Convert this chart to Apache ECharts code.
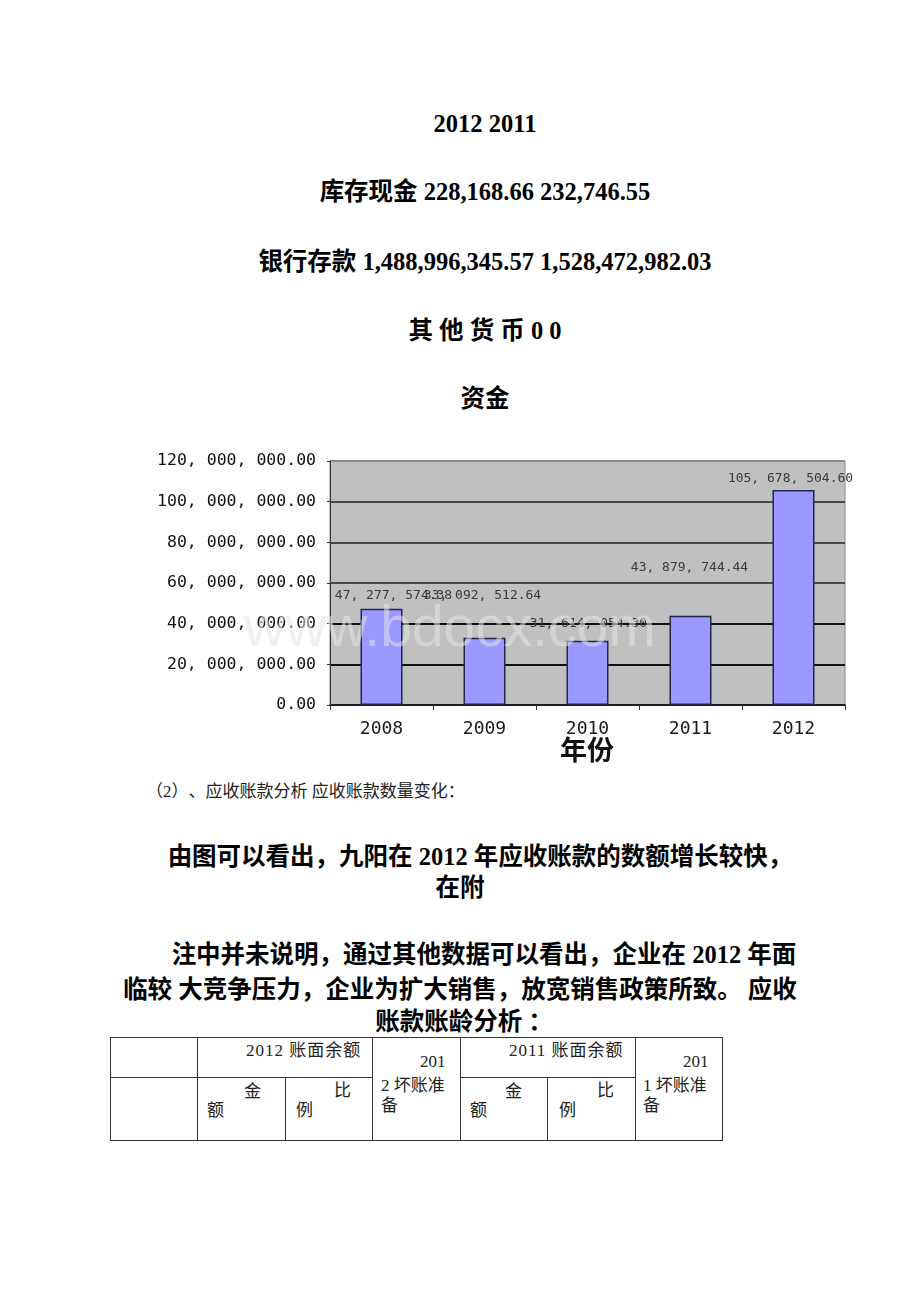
<!DOCTYPE html>
<html><head><meta charset="utf-8">
<script src="https://cdn.jsdelivr.net/npm/echarts@6/dist/echarts.min.js"></script>
<style>
html,body{margin:0;padding:0;background:#fff;}
body{width:920px;height:1302px;position:relative;overflow:hidden;text-spacing-trim:space-all;}
.t{position:absolute;white-space:nowrap;font-family:"Liberation Serif","Noto Sans CJK SC",serif;color:#000;line-height:1;text-spacing-trim:space-all;}
.b{font-weight:bold;font-size:24.5px;}
.c{transform:translate(-50%,-50%);}
.l{transform:translate(0,-50%);}
.s{font-size:17px;color:#222;font-weight:normal;}
.hl{position:absolute;height:1px;background:#333;}
.vl{position:absolute;width:1px;background:#333;}
.tc{position:absolute;white-space:nowrap;font-family:"Liberation Serif","Noto Sans CJK SC",serif;font-size:17px;color:#222;line-height:1;transform:translate(0,-50%);}
#chart{position:absolute;left:140px;top:440px;width:717px;height:330px;}
</style></head><body>
<div class="t b c" style="left:485px;top:124px">2012 2011</div>
<div class="t b c" style="left:485px;top:192px">库存现金 228,168.66 232,746.55</div>
<div class="t b c" style="left:485px;top:262px">银行存款 1,488,996,345.57 1,528,472,982.03</div>
<div class="t b c" style="left:485px;top:331px">其 他 货 币 0 0</div>
<div class="t b c" style="left:485px;top:399px">资金</div>

<div id="chart"></div>

<div class="t s l" style="left:146px;top:791px">（2）、应收账款分析 应收账款数量变化：</div>
<div class="t b c" style="left:480px;top:857px">由图可以看出，九阳在 2012 年应收账款的数额增长较快，</div>
<div class="t b c" style="left:460px;top:888px">在附</div>
<div class="t b c" style="left:484px;top:955px">注中并未说明，通过其他数据可以看出，企业在 2012 年面</div>
<div class="t b c" style="left:460px;top:990px">临较 大竞争压力，企业为扩大销售，放宽销售政策所致。 应收</div>
<div class="t b c" style="left:464px;top:1022px">账款账龄分析 ：</div>

<!-- table -->
<div class="hl" style="left:110px;top:1037px;width:613px"></div>
<div class="hl" style="left:110px;top:1077px;width:262px"></div>
<div class="hl" style="left:460px;top:1077px;width:175px"></div>
<div class="hl" style="left:110px;top:1140px;width:613px"></div>
<div class="vl" style="left:110px;top:1037px;height:104px"></div>
<div class="vl" style="left:197px;top:1037px;height:104px"></div>
<div class="vl" style="left:285px;top:1077px;height:64px"></div>
<div class="vl" style="left:372px;top:1037px;height:104px"></div>
<div class="vl" style="left:460px;top:1037px;height:104px"></div>
<div class="vl" style="left:547px;top:1077px;height:64px"></div>
<div class="vl" style="left:635px;top:1037px;height:104px"></div>
<div class="vl" style="left:722px;top:1037px;height:104px"></div>

<div class="tc" style="left:246px;top:1050px;letter-spacing:1px">2012 账面余额</div>
<div class="tc" style="left:420px;top:1061px">201</div>
<div class="tc" style="left:381px;top:1085px">2 坏账准</div>
<div class="tc" style="left:381px;top:1105px">备</div>
<div class="tc" style="left:509px;top:1050px;letter-spacing:1px">2011 账面余额</div>
<div class="tc" style="left:683px;top:1061px">201</div>
<div class="tc" style="left:643px;top:1085px">1 坏账准</div>
<div class="tc" style="left:643px;top:1105px">备</div>
<div class="tc" style="left:244px;top:1091px">金</div>
<div class="tc" style="left:207px;top:1110px">额</div>
<div class="tc" style="left:334px;top:1090px">比</div>
<div class="tc" style="left:296px;top:1110px">例</div>
<div class="tc" style="left:505px;top:1091px">金</div>
<div class="tc" style="left:470px;top:1110px">额</div>
<div class="tc" style="left:597px;top:1090px">比</div>
<div class="tc" style="left:559px;top:1110px">例</div>

<script>
// ---- data ----
const years = ['2008', '2009', '2010', '2011', '2012'];
const receivables = [47277574.38, 33092512.64, 31614054.30, 43879744.44, 105678504.60];
const yMin = 0;
const yMax = 120000000;
const yStep = 20000000;
const xAxisTitle = '年份';
const watermark = 'www.bdocx.com';

function fmt(v) {
  const parts = v.toFixed(2).split('.');
  const intPart = parts[0].replace(/\B(?=(\d{3})+(?!\d))/g, ',');
  return intPart.split(',').join(', ') + '.' + parts[1];
}

// label nudges (style only)
const nudges = [[12, -7], [-2, -36], [1, -11], [-1, -42], [-3, -5]];

const chart = echarts.init(document.getElementById('chart'), null, {renderer: 'canvas'});
const option = {
  animation: false,
  backgroundColor: '#ffffff',
  grid: {
    left: 190, top: 21, width: 515, height: 244,
    show: true, backgroundColor: '#c0c0c0', borderColor: '#8a8a8a', borderWidth: 1
  },
  xAxis: {
    type: 'category',
    data: years,
    boundaryGap: true,
    axisLine: {show: true, lineStyle: {color: '#222', width: 1.5}},
    axisTick: {show: true, length: 5, lineStyle: {color: '#333'}},
    axisLabel: {margin: 15, fontFamily: 'DejaVu Sans Mono', fontSize: 18, color: '#1a1a1a'}
  },
  yAxis: {
    type: 'value',
    min: yMin, max: yMax, interval: yStep,
    axisLine: {show: true, lineStyle: {color: '#333', width: 1}},
    axisTick: {show: true, length: 3, lineStyle: {color: '#333'}},
    splitLine: {show: true, lineStyle: {color: ['#111', '#111', '#111', '#484848', '#484848', '#484848', '#8a8a8a'], width: 2}},
    axisLabel: {margin: 14, fontFamily: 'DejaVu Sans Mono', fontSize: 16.5, color: '#111', formatter: v => fmt(v)}
  },
  series: [{
    type: 'bar',
    barWidth: 42,
    data: receivables.map((v, i) => ({
      value: v,
      label: {offset: nudges[i]}
    })),
    itemStyle: {color: '#9999ff', borderColor: '#26264a', borderWidth: 1.5},
    label: {
      show: true, position: 'top', distance: 0,
      fontFamily: 'DejaVu Sans Mono', fontSize: 13, color: '#3a3a3a',
      formatter: p => fmt(p.value)
    },
    z: 2
  }],
  graphic: [
    {
      type: 'text', top: 296, left: 420, z: 10,
      style: {text: xAxisTitle, font: 'bold 27px "Noto Sans CJK SC"', fill: '#111'}
    },
    {
      type: 'text', z: 20, silent: true,
      x: 104, y: 190,
      style: {
        text: watermark, font: '57px "Liberation Sans", Arial, sans-serif',
        fill: 'rgba(228,228,228,0.55)', textVerticalAlign: 'middle'
      }
    }
  ]
};
chart.setOption(option);
</script>
</body></html>
